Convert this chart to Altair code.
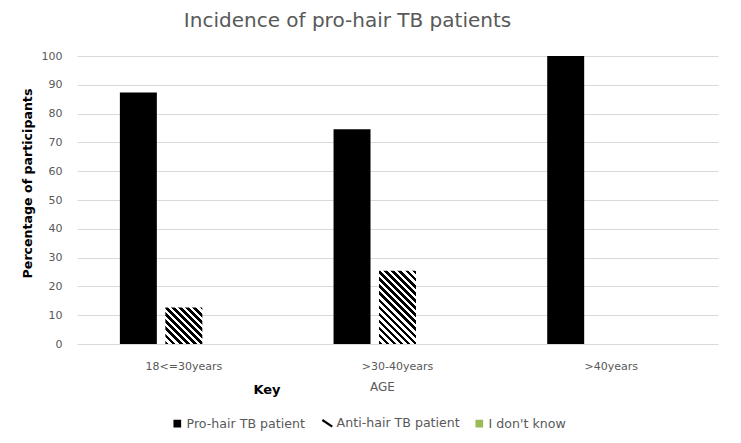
import math
import altair as alt
import pandas as pd

# ---- data ----
ages = ["18<=30years", ">30-40years", ">40years"]
series = ["Pro-hair TB patient", "Anti-hair TB patient", "I don't know"]
pro_hair = [87.3, 74.6, 100.0]
anti_hair = [12.7, 25.4, 0.0]
dont_know = [0.0, 0.0, 0.0]
y_ticks = [0, 10, 20, 30, 40, 50, 60, 70, 80, 90, 100]
key_label = ["Key"]

rows = []
for i, a in enumerate(ages):
    rows.append({"age": a, "series": series[0], "value": pro_hair[i]})
    rows.append({"age": a, "series": series[1], "value": anti_hair[i]})
    rows.append({"age": a, "series": series[2], "value": dont_know[i]})
df = pd.DataFrame(rows)

W, H = 641, 288
OFF_PI, OFF_PO = 0.187, 0.943
GRAY = "#595959"
FONT = "DejaVu Sans"
ANTI = series[1]
COLORS = ["black", "black", "#9bbb59"]
SHAPES = ["square", "M-1.8,-1.2L1.8,1.2", "square"]

# bar width implied by the scale settings (used only for the hatch style)
band = W / len(ages)
step = band / (len(series) - OFF_PI + 2 * OFF_PO)
bar_w = step * (1 - OFF_PI)


def hatch(w, h, period=5.0):
    """Diagonal black/white stripes as a hard-stop linear gradient."""
    n2 = w * w + h * h
    x2 = w * (w + h) / n2
    y2 = 1 - h * (w + h) / n2
    n = (w + h) / (math.sqrt(2) * period)
    stops = []
    i = 0
    while i / n < 1:
        a, b, c = i / n, min((i + 0.5) / n, 1), min((i + 1) / n, 1)
        stops += [alt.GradientStop(color="black", offset=a),
                  alt.GradientStop(color="black", offset=b),
                  alt.GradientStop(color="white", offset=b),
                  alt.GradientStop(color="white", offset=c)]
        i += 1
    return alt.LinearGradient(gradient="linear", stops=stops,
                              x1=0, y1=1, x2=x2, y2=y2)


x_enc = alt.X("age:N", sort=ages,
              scale=alt.Scale(paddingInner=0, paddingOuter=0),
              axis=alt.Axis(title="AGE", labelAngle=0, grid=False, domain=False,
                            ticks=False, tickSize=0, labelPadding=16,
                            labelFont=FONT, labelFontSize=11, labelColor=GRAY,
                            titleFont=FONT, titleFontSize=12, titleColor=GRAY,
                            titleFontWeight="normal", titleX=305, titleY=42,
                            titleBaseline="middle", titleAlign="center"))
xoff_enc = alt.XOffset("series:N", sort=series,
                       scale=alt.Scale(domain=series, paddingInner=OFF_PI,
                                       paddingOuter=OFF_PO))
y_enc = alt.Y("value:Q", scale=alt.Scale(domain=[0, 100], nice=False),
              axis=alt.Axis(title="Percentage of participants", values=y_ticks,
                            grid=True, gridColor="#d9d9d9", gridWidth=1,
                            domain=False, ticks=False, tickSize=0, labelPadding=15,
                            labelFont=FONT, labelFontSize=11, labelColor=GRAY,
                            titleFont=FONT, titleFontSize=12.6, titleColor="black",
                            titleFontWeight="bold", titleX=-43, titleY=127,
                            titleBaseline="bottom", titleAlign="center"))

legend = alt.Legend(
    title=None, orient="none", direction="horizontal", legendX=94, legendY=361,
    labelFont=FONT, labelFontSize=12.6, labelColor=GRAY,
    symbolSize=30, symbolStrokeWidth=2.2, symbolOpacity=1,
    labelOffset=3, columnPadding=12,
)
color_enc = alt.Color("series:N", sort=series,
                      scale=alt.Scale(domain=series, range=COLORS), legend=legend)

base = alt.Chart(df)

solid = base.transform_filter(alt.datum.series != ANTI).mark_bar().encode(
    x=x_enc, xOffset=xoff_enc, y=y_enc, color=color_enc,
)

layers = [solid]
for i, a in enumerate(ages):
    if anti_hair[i] > 0:
        h = anti_hair[i] * H / 100.0
        layers.append(
            base.transform_filter((alt.datum.series == ANTI) & (alt.datum.age == a))
            .mark_bar(fill=hatch(bar_w, h))
            .encode(x=x_enc, xOffset=xoff_enc, y=y_enc)
        )

# invisible points that only carry the legend symbols (fill + shape + stroke)
legend_pts = base.mark_point(filled=True, opacity=0, strokeWidth=2.2).encode(
    x=x_enc, xOffset=xoff_enc, y=y_enc, color=color_enc,
    shape=alt.Shape("series:N", sort=series,
                    scale=alt.Scale(domain=series, range=SHAPES), legend=legend),
    stroke=alt.Stroke("series:N", sort=series,
                      scale=alt.Scale(domain=series, range=COLORS), legend=legend),
)
layers.append(legend_pts)

key_text = alt.Chart(pd.DataFrame({"t": key_label})).mark_text(
    font=FONT, fontSize=13, fontWeight="bold", color="black",
    align="center", baseline="middle",
).encode(text="t:N", x=alt.value(190), y=alt.value(334))
layers.append(key_text)

chart = alt.layer(*layers).properties(
    width=W, height=H,
    background="white",
    title=alt.TitleParams("Incidence of pro-hair TB patients", font=FONT, fontSize=20,
                          fontWeight="normal", color=GRAY, anchor="middle",
                          frame="group", dx=-50, offset=19),
    autosize=alt.AutoSizeParams(type="none"),
    padding={"left": 69, "top": 48, "right": 10, "bottom": 90},
).configure_view(stroke=None)

chart.save("out.html", embed_options={"renderer": "svg", "actions": False})
